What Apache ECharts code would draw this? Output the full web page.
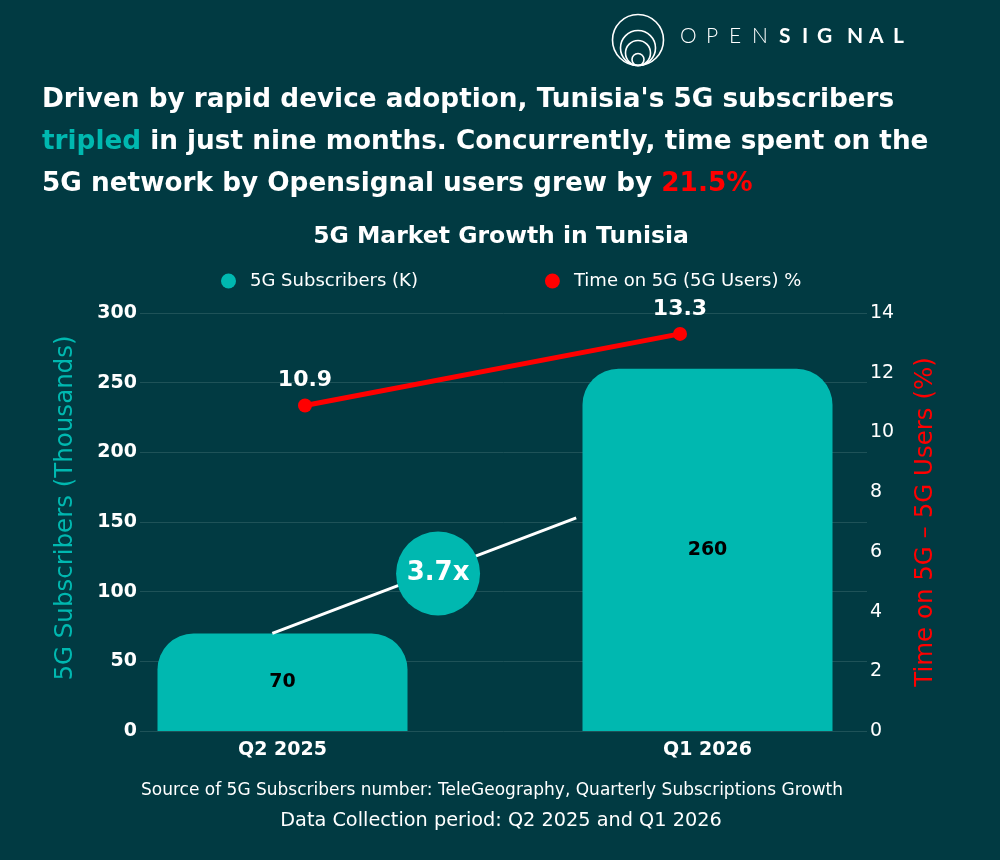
<!DOCTYPE html>
<html>
<head>
    <meta charset="utf-8">
    <title>5G Market Growth in Tunisia</title>
    <script src="https://cdn.jsdelivr.net/npm/echarts@6/dist/echarts.min.js"></script>
    <style>
        html, body { margin: 0; padding: 0; background: #013a42; }
    </style>
</head>
<body>
    <div id="main" style="width: 1000px;height:860px;"></div>
    <script type="text/javascript">
    // data
    var quarters = ['Q2 2025', 'Q1 2026'];
    var subscribers = [70, 260];          // 5G Subscribers (K)
    var timeOn5G = [10.9, 13.3];          // Time on 5G (5G Users) %
    var leftTicks = [0, 50, 100, 150, 200, 250, 300];
    var rightTicks = [0, 2, 4, 6, 8, 10, 12, 14];

    var teal = '#00b8b0';
    var red = '#ff0000';
    var bg = '#013a42';
    var gridColor = '#1e5258';
    var font = 'DejaVu Sans';

    // growth badge: ratio between the two quarters
    var growth = (subscribers[1] / subscribers[0]).toFixed(1) + 'x';

    var myChart = echarts.init(document.getElementById('main'));

    var frame = { left: 140, right: 133, top: 313, bottom: 129 };

    // logo wordmark, letter by letter (spaced out)
    var logoLetters = [];
    var logoText = 'OPENSIGNAL';
    var logoX = [680, 706, 729, 752, 779, 802, 817, 847, 869, 893];
    for (var i = 0; i < logoText.length; i++) {
        logoLetters.push({
            type: 'text',
            left: logoX[i],
            top: 26,
            style: {
                text: logoText[i], fill: '#fff',
                font: (i < 4 ? '300' : 'bold') + ' 21px Lato'
            }
        });
    }

    var option = {
        backgroundColor: bg,
        textStyle: { fontFamily: font },
        title: [{
            left: 42,
            top: 79,
            padding: 0,
            text: 'Driven by rapid device adoption, Tunisia\'s 5G subscribers\n' +
                '{t|tripled} in just nine months. Concurrently, time spent on the\n' +
                '5G network by Opensignal users grew by {r|21.5%}',
            textStyle: {
                color: '#fff', fontSize: 26.3, fontWeight: 'bold', lineHeight: 42, fontFamily: font,
                rich: {
                    t: { color: teal, fontSize: 26.3, fontWeight: 'bold', lineHeight: 42, fontFamily: font },
                    r: { color: red, fontSize: 26.3, fontWeight: 'bold', lineHeight: 42, fontFamily: font }
                }
            }
        }, {
            left: 501,
            top: 225,
            padding: 0,
            textAlign: 'center',
            text: '5G Market Growth in Tunisia',
            textStyle: { color: '#fff', fontSize: 23.5, fontWeight: 'bold', fontFamily: font }
        }, {
            left: 492,
            top: 782,
            padding: 0,
            textAlign: 'center',
            text: 'Source of 5G Subscribers number: TeleGeography, Quarterly Subscriptions Growth',
            textStyle: { color: '#fff', fontSize: 17, fontWeight: 'normal', fontFamily: font }
        }, {
            left: 501,
            top: 811,
            padding: 0,
            textAlign: 'center',
            text: 'Data Collection period: Q2 2025 and Q1 2026',
            textStyle: { color: '#fff', fontSize: 19.3, fontWeight: 'normal', fontFamily: font }
        }],
        legend: {
            left: 221,
            top: 272,
            padding: 0,
            itemGap: 127,
            itemWidth: 15,
            itemHeight: 15,
            icon: 'circle',
            data: ['5G Subscribers (K)', 'Time on 5G (5G Users) %'],
            textStyle: { color: '#fff', fontSize: 18, fontFamily: font, padding: [0, 0, 0, 9] }
        },
        grid: [
            // frame with gridlines and both value axes
            { left: frame.left, right: frame.right, top: frame.top, bottom: frame.bottom },
            // bars
            { left: 70, width: 850, top: frame.top, bottom: frame.bottom },
            // line
            { left: 117.5, width: 750, top: frame.top, bottom: frame.bottom }
        ],
        xAxis: [{
            gridIndex: 0, type: 'category', data: quarters, show: false
        }, {
            gridIndex: 1, type: 'category', data: quarters,
            axisLine: { show: false }, axisTick: { show: false },
            axisLabel: { color: '#fff', fontSize: 19, fontWeight: 'bold', margin: 10, fontFamily: font }
        }, {
            gridIndex: 2, type: 'category', data: quarters, show: false
        }, {
            gridIndex: 0, type: 'value', min: 0, max: 1, show: false
        }],
        yAxis: [{
            gridIndex: 0, type: 'value', position: 'left',
            min: leftTicks[0], max: leftTicks[leftTicks.length - 1], interval: 50,
            name: '5G Subscribers (Thousands)', nameLocation: 'middle', nameGap: 62,
            nameTextStyle: { color: teal, fontSize: 24.5, fontFamily: font, padding: [0, 0, 0, 28] },
            axisLine: { show: false }, axisTick: { show: false },
            axisLabel: { color: '#fff', fontSize: 19, fontWeight: 'bold', margin: 3, fontFamily: font },
            splitLine: { lineStyle: { color: gridColor, width: 1 } }
        }, {
            gridIndex: 0, type: 'value', position: 'right',
            min: rightTicks[0], max: rightTicks[rightTicks.length - 1], interval: 2,
            name: 'Time on 5G \u2013 5G Users (%)', nameLocation: 'middle', nameGap: 46,
            nameTextStyle: { color: red, fontSize: 24.5, fontFamily: font },
            axisLine: { show: false }, axisTick: { show: false },
            axisLabel: { color: '#fff', fontSize: 19, margin: 3, fontFamily: font },
            splitLine: { show: false }
        }, {
            gridIndex: 1, type: 'value', min: 0, max: 300, show: false
        }, {
            gridIndex: 2, type: 'value', min: 0, max: 14, show: false
        }],
        series: [{
            name: '5G Subscribers (K)',
            type: 'bar',
            xAxisIndex: 1,
            yAxisIndex: 2,
            barWidth: 250,
            data: subscribers,
            itemStyle: { color: teal, borderRadius: [36, 36, 0, 0] },
            label: {
                show: true, position: 'inside', color: '#000',
                fontSize: 19, fontWeight: 'bold', fontFamily: font
            }
        }, {
            name: 'Time on 5G (5G Users) %',
            type: 'line',
            xAxisIndex: 2,
            yAxisIndex: 3,
            data: timeOn5G,
            symbol: 'circle',
            symbolSize: 14,
            lineStyle: { color: red, width: 5 },
            itemStyle: { color: red },
            label: {
                show: true, position: 'top', distance: 7, color: '#fff',
                fontSize: 22, fontWeight: 'bold', fontFamily: font
            },
            z: 5
        }, {
            // connector between the two bars
            type: 'line',
            xAxisIndex: 3,
            yAxisIndex: 0,
            data: [[0.182, subscribers[0]], [0.600, 153]],
            symbol: 'none',
            lineStyle: { color: '#fff', width: 3 },
            silent: true,
            z: 3
        }, {
            // growth badge
            type: 'scatter',
            xAxisIndex: 3,
            yAxisIndex: 0,
            data: [[0.410, 113]],
            symbol: 'circle',
            symbolSize: 84,
            itemStyle: { color: teal, opacity: 1 },
            label: {
                show: true, position: 'inside', formatter: growth, color: '#fff',
                fontSize: 26, fontWeight: 'bold', fontFamily: font
            },
            silent: true,
            z: 4
        }],
        graphic: [{
            type: 'group',
            left: 610,
            top: 12,
            children: [
                { type: 'circle', shape: { cx: 26, cy: 25.5, r: 25.5 }, style: { fill: 'none', stroke: '#fff', lineWidth: 1.6 } },
                { type: 'circle', shape: { cx: 26, cy: 33.5, r: 17.5 }, style: { fill: 'none', stroke: '#fff', lineWidth: 1.6 } },
                { type: 'circle', shape: { cx: 26, cy: 38.5, r: 12.5 }, style: { fill: 'none', stroke: '#fff', lineWidth: 1.6 } },
                { type: 'circle', shape: { cx: 26, cy: 45, r: 6 }, style: { fill: 'none', stroke: '#fff', lineWidth: 1.6 } }
            ]
        }].concat(logoLetters)
    };
    myChart.setOption(option);
    </script>
</body>
</html>
